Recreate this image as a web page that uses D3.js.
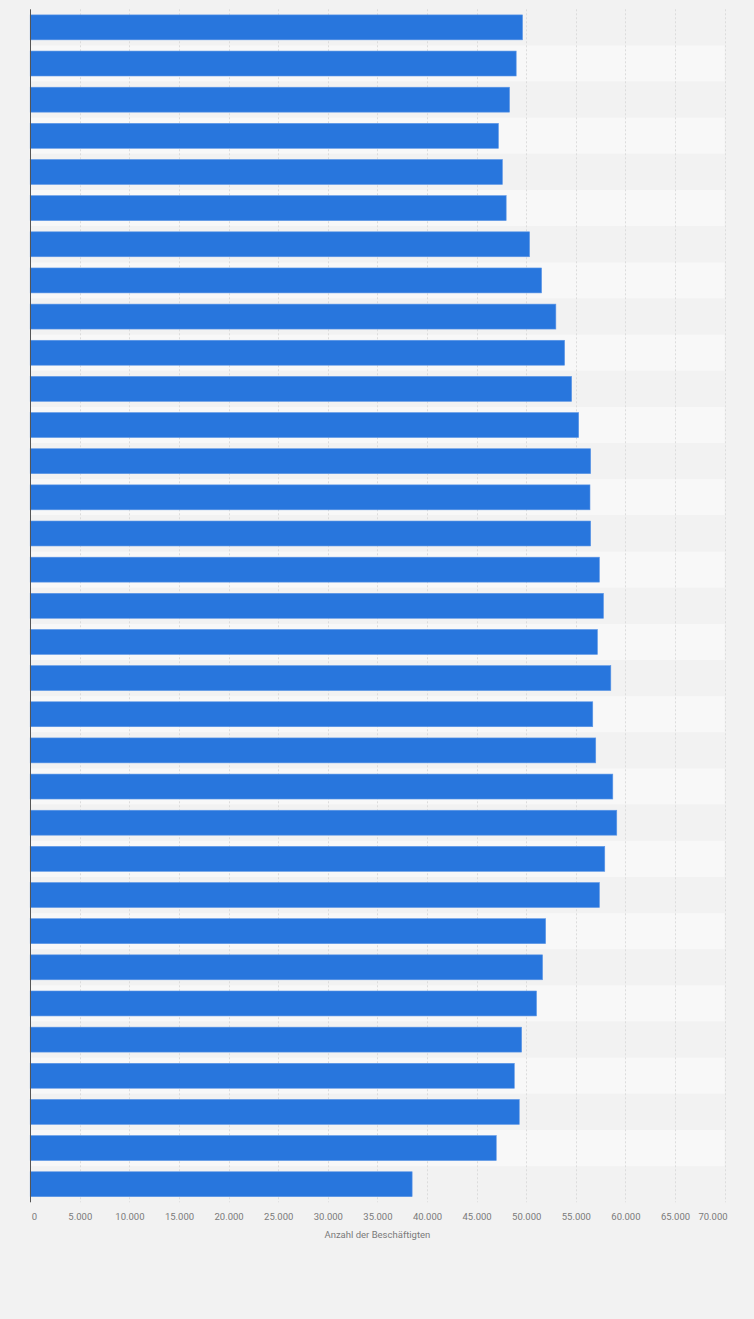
<!DOCTYPE html>
<html>
<head>
<meta charset="utf-8">
<script src="https://cdn.jsdelivr.net/npm/d3@7"></script>
<style>
  html, body { margin: 0; padding: 0; background: #f2f2f2; }
  svg { display: block; font-family: Roboto, "Liberation Sans", sans-serif; }
</style>
</head>
<body>
<svg id="chart"></svg>
<script>
// categories are not labelled in the picture, so they stay hidden
const categories = [
  "1990", "1991", "1992", "1993", "1994", "1995", "1996", "1997", "1998",
  "1999", "2000", "2001", "2002", "2003", "2004", "2005", "2006", "2007",
  "2008", "2009", "2010", "2011", "2012", "2013", "2014", "2015", "2016",
  "2017", "2018", "2019", "2020", "2021", "2022"
];
const values = [
  49630, 48990, 48320, 47200, 47600, 47980, 50340, 51550, 52990,
  53870, 54580, 55290, 56500, 56430, 56500, 57380, 57790, 57180,
  58530, 56710, 57010, 58730, 59130, 57920, 57380, 51960, 51650,
  51040, 49540, 48800, 49300, 46980, 38500
];
const xTicks = [0, 5000, 10000, 15000, 20000, 25000, 30000, 35000, 40000, 45000, 50000, 55000, 60000, 65000, 70000];
const axisTitle = "Anzahl der Beschäftigten";

const width = 754, height = 1319;
const plotLeft = 30.2, plotRight = 724.6, plotTop = 9.3, plotBottom = 1202.3;

const de = d3.formatLocale({ decimal: ",", thousands: ".", grouping: [3], currency: ["", " €"] });
const fmt = de.format(",d");

const svg = d3.select("#chart")
  .attr("width", width)
  .attr("height", height);

const x = d3.scaleLinear()
  .domain([0, 70000])
  .range([plotLeft, plotRight]);

const y = d3.scaleBand()
  .domain(categories)
  .range([plotTop, plotBottom])
  .paddingInner(0.31)
  .paddingOuter(0.155);

// alternating row stripes
svg.append("g")
  .selectAll("rect")
  .data(categories)
  .join("rect")
  .attr("x", plotLeft)
  .attr("y", d => y(d) - y.step() * y.paddingInner() / 2)
  .attr("width", plotRight - plotLeft)
  .attr("height", y.step())
  .attr("fill", (d, i) => i % 2 === 0 ? "#f2f2f2" : "#f8f8f8");

// gridlines
svg.append("g")
  .selectAll("line")
  .data(xTicks.slice(1))
  .join("line")
  .attr("x1", d => Math.round(x(d)) + 0.5)
  .attr("x2", d => Math.round(x(d)) + 0.5)
  .attr("y1", plotTop)
  .attr("y2", plotBottom)
  .attr("stroke", "#dcdcdc")
  .attr("stroke-dasharray", "2,2");

// bars
svg.append("g")
  .selectAll("rect")
  .data(values)
  .join("rect")
  .attr("x", x(0))
  .attr("y", (d, i) => y(categories[i]))
  .attr("width", d => x(d) - x(0))
  .attr("height", y.bandwidth())
  .attr("fill", "#2876dd")
  .attr("stroke", "#5e97e6")
  .attr("stroke-width", 0.6);

// y axis line only
svg.append("line")
  .attr("x1", Math.round(x(0)) + 0.5)
  .attr("x2", Math.round(x(0)) + 0.5)
  .attr("y1", plotTop)
  .attr("y2", plotBottom)
  .attr("stroke", "#555")
  .attr("stroke-width", 1);

// x axis labels
const xAxis = d3.axisBottom(x)
  .tickValues(xTicks)
  .tickFormat(fmt)
  .tickSize(0)
  .tickPadding(0);

const ax = svg.append("g")
  .attr("transform", `translate(0,${plotBottom + 11})`)
  .call(xAxis);
ax.select(".domain").remove();
ax.selectAll("text")
  .attr("fill", "#7a7a7a")
  .attr("font-size", "9.5px")
  .attr("font-family", "Roboto, sans-serif")
  .attr("dy", "0.71em")
  .attr("text-anchor", (d, i) => i === 0 ? "start" : i === xTicks.length - 1 ? "end" : "middle")
  .attr("dx", (d, i) => i === 0 ? "1" : i === xTicks.length - 1 ? "2.5" : "0");

svg.append("text")
  .attr("x", (plotLeft + plotRight) / 2)
  .attr("y", plotBottom + 35.5)
  .attr("text-anchor", "middle")
  .attr("fill", "#7a7a7a")
  .attr("font-size", "9.5px")
  .text(axisTitle);
</script>
</body>
</html>
